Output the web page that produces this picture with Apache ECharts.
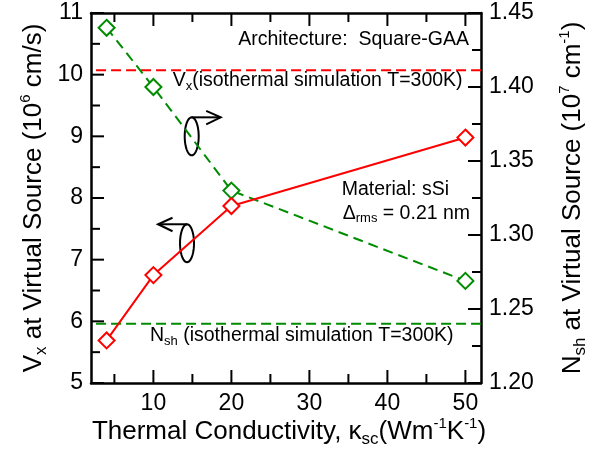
<!DOCTYPE html>
<html><head><meta charset="utf-8">
<script src="https://cdn.jsdelivr.net/npm/echarts@6/dist/echarts.min.js"></script>
<style>html,body{margin:0;padding:0;background:#fff}#c{width:594px;height:453px}</style>
</head><body><div id="c"></div>
<script>
// ---- data ----
const kappa = [4, 10, 20, 50];
const vx = [5.69, 6.75, 7.87, 8.98];          // left axis, 10^6 cm/s
const nsh = [1.440, 1.400, 1.330, 1.269];     // right axis, 10^7 cm^-1
const vxIso = 10.07;
const nshIso = 1.24;
const isoX = [2.65, 52];

// ---- axes / ticks ----
const xRange = [2, 52];
const yLRange = [5, 11];
const yRRange = [1.2, 1.45];
const xMajor = [10, 20, 30, 40, 50];
const xMinor = [5, 15, 25, 35, 45];
const yLMajor = [5, 6, 7, 8, 9, 10, 11];
const yLMinor = [5.5, 6.5, 7.5, 8.5, 9.5, 10.5];
const yRMajor = [1.20, 1.25, 1.30, 1.35, 1.40, 1.45];
const yRMinor = [1.225, 1.275, 1.325, 1.375, 1.425];

// annotations: anchor in (x, left-y) data coordinates
const annText = ['{n|Architecture:  Square-GAA}',
  '{n|V}{sub|x}{n|(isothermal simulation T=300K)}',
  '{n|N}{sub|sh}{n| (isothermal simulation T=300K)}',
  '{n|Material: sSi}',
  '{n|\u0394}{sub|rms}{n| = 0.21 nm}',
  '', ''];
const annKind = ['right', 'left', 'left', 'left', 'left', 'arrowR', 'arrowL'];
const annX = [50.46, 12.47, 9.56, 34.14, 34.27, 14.91, 14.31];
const annY = [10.562, 9.905, 5.77, 8.13, 7.752, 9.0, 7.266];

const F = '"Liberation Sans", Arial, Helvetica, sans-serif';
const RED = '#ff0000', GREEN = '#008c00', BLK = '#000';
const MAJ = 13, MIN = 9;
const chart = echarts.init(document.getElementById('c'), null, {renderer: 'canvas'});

function xAx(pos, showLabel) {
  return {
    type: 'value', position: pos, min: xRange[0], max: xRange[1],
    axisLine: {show: true, onZero: false, lineStyle: {color: BLK, width: 2.5}},
    axisTick: {show: false},
    axisLabel: {show: showLabel, customValues: xMajor, fontSize: 23, fontFamily: F, color: BLK, margin: 9},
    splitLine: {show: false}
  };
}
function yAx(pos, range, interval, fmt) {
  return {
    type: 'value', position: pos, min: range[0], max: range[1], interval: interval,
    axisLine: {show: true, onZero: false, lineStyle: {color: BLK, width: 2.5}},
    axisTick: {show: false},
    axisLabel: {fontSize: 23, fontFamily: F, color: BLK, margin: 8, formatter: fmt},
    splitLine: {show: false}
  };
}

const annRich = {
  n: {fontSize: 19.5, fontFamily: F, lineHeight: 24, color: BLK},
  sub: {fontSize: 13, fontFamily: F, lineHeight: 5, verticalAlign: 'bottom', color: BLK}
};
const titleRich = {
  n: {fontSize: 26, fontFamily: F, lineHeight: 32, color: BLK},
  sub: {fontSize: 17, fontFamily: F, lineHeight: 12, verticalAlign: 'bottom', color: BLK},
  sup: {fontSize: 15, fontFamily: F, lineHeight: 8, verticalAlign: 'top', color: BLK}
};

function ellipsePts(cx, cy, rx, ry) {
  const pts = [];
  for (let k = 0; k <= 48; k++) {
    const t = k / 48 * Math.PI * 2;
    pts.push([cx + rx * Math.cos(t), cy + ry * Math.sin(t)]);
  }
  return pts;
}
function renderAnn(params, api) {
  const i = params.dataIndex;
  const p = api.coord([api.value(0), api.value(1)]);
  const kind = annKind[i];
  if (kind === 'left' || kind === 'right') {
    return {type: 'text', x: p[0], y: p[1],
      style: {text: annText[i], rich: annRich, align: kind, verticalAlign: 'middle'}};
  }
  const dir = kind === 'arrowR' ? 1 : -1;
  const ry = 19, rx = 7;
  const top = [p[0], p[1] - ry];
  const tip = [p[0] + dir * 29, p[1] - ry];
  const st = {fill: 'none', stroke: BLK, lineWidth: 2};
  return {type: 'group', children: [
    {type: 'polyline', shape: {points: ellipsePts(p[0], p[1], rx, ry)}, style: st},
    {type: 'polyline', shape: {points: [top, tip]}, style: st},
    {type: 'polyline', shape: {points: [[tip[0] - dir * 14.5, tip[1] - 6.5], tip, [tip[0] - dir * 14.5, tip[1] + 7]]}, style: st}
  ]};
}

// tick rows: [value, orientation (0 = x tick, 1 = left-y tick, 2 = right-y tick), length]
const tickRowsL = [].concat(
  xMajor.map(v => [v, 0, MAJ]), xMinor.map(v => [v, 0, MIN]),
  yLMajor.map(v => [v, 1, MAJ]), yLMinor.map(v => [v, 1, MIN]));
const tickRowsR = [].concat(yRMajor.map(v => [v, 2, MAJ]), yRMinor.map(v => [v, 2, MIN]));
function renderTick(params, api) {
  const v = api.value(0), o = api.value(1), len = api.value(2);
  const st = {fill: BLK};
  const w = 2;
  if (o === 0) {
    const b = api.coord([v, yLRange[0]]), t = api.coord([v, yLRange[1]]);
    return {type: 'group', children: [
      {type: 'rect', shape: {x: b[0] - w / 2, y: b[1] - len, width: w, height: len}, style: st},
      {type: 'rect', shape: {x: t[0] - w / 2, y: t[1], width: w, height: len}, style: st}
    ]};
  }
  if (o === 1) {
    const l = api.coord([xRange[0], v]);
    return {type: 'rect', shape: {x: l[0], y: l[1] - w / 2, width: len, height: w}, style: st};
  }
  const r = api.coord([xRange[1], v]);
  return {type: 'rect', shape: {x: r[0] - len, y: r[1] - w / 2, width: len, height: w}, style: st};
}

const gx0 = 91, gx1 = 481, gy0 = 13, gy1 = 383;
function title(x, y, text, rot) {
  return {type: 'text', x: x, y: y, rotation: rot || 0, z: 10,
    style: {text: text, rich: titleRich, align: 'center', verticalAlign: 'middle'}};
}

const option = {
  animation: false,
  grid: {left: gx0, right: 594 - gx1, top: gy0, bottom: 453 - gy1, containLabel: false},
  xAxis: [xAx('bottom', true), xAx('top', false)],
  yAxis: [
    yAx('left', yLRange, 1, v => String(v)),
    yAx('right', yRRange, 0.05, v => v.toFixed(2))
  ],
  graphic: [
    title(gx0 - 57, (gy0 + gy1) / 2, '{n|V}{sub|x}{n| at Virtual Source (10}{sup|6}{n| cm/s)}', Math.PI / 2),
    title(gx1 + 92, (gy0 + gy1) / 2, '{n|N}{sub|sh}{n| at Virtual Source (10}{sup|7}{n| cm}{sup|-1}{n|)}', Math.PI / 2),
    title((gx0 + gx1) / 2 + 3, gy1 + 49, '{n|Thermal Conductivity, \u03ba}{sub|sc}{n|(Wm}{sup|-1}{n|K}{sup|-1}{n|)}')
  ],
  series: [
    {type: 'line', xAxisIndex: 0, yAxisIndex: 0, data: isoX.map(x => [x, vxIso]), symbol: 'none',
     lineStyle: {color: RED, width: 2, type: [10, 5]}, silent: true},
    {type: 'line', xAxisIndex: 0, yAxisIndex: 1, data: isoX.map(x => [x, nshIso]), symbol: 'none',
     lineStyle: {color: GREEN, width: 2, type: [10, 5]}, silent: true},
    {type: 'line', xAxisIndex: 0, yAxisIndex: 1, data: kappa.map((k, i) => [k, nsh[i]]),
     symbol: 'diamond', symbolSize: 16, showAllSymbol: true,
     lineStyle: {color: GREEN, width: 2, type: [10, 6]},
     itemStyle: {color: '#fff', borderColor: GREEN, borderWidth: 2}},
    {type: 'line', xAxisIndex: 0, yAxisIndex: 0, data: kappa.map((k, i) => [k, vx[i]]),
     symbol: 'diamond', symbolSize: 16, showAllSymbol: true,
     lineStyle: {color: RED, width: 2},
     itemStyle: {color: '#fff', borderColor: RED, borderWidth: 2}},
    {type: 'custom', xAxisIndex: 0, yAxisIndex: 0, silent: true, clip: false,
     data: annX.map((x, i) => [x, annY[i]]), renderItem: renderAnn},
    {type: 'custom', xAxisIndex: 0, yAxisIndex: 0, silent: true, clip: false, z: 20,
     data: tickRowsL, renderItem: renderTick},
    {type: 'custom', xAxisIndex: 0, yAxisIndex: 1, silent: true, clip: false, z: 20,
     data: tickRowsR, renderItem: renderTick}
  ]
};
chart.setOption(option);
</script>
</body></html>
